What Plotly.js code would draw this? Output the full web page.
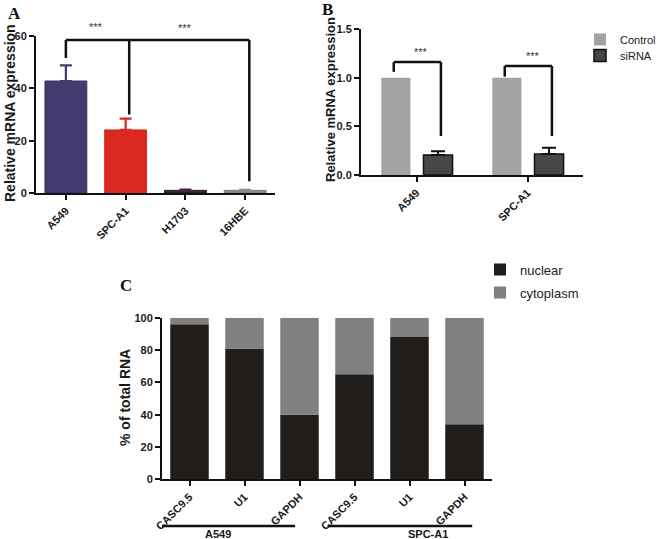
<!DOCTYPE html>
<html>
<head>
<meta charset="utf-8">
<script src="https://cdn.plot.ly/plotly-3.0.1.min.js"></script>
<style>html,body{margin:0;padding:0;background:#fff;}#chart{width:660px;height:539px;}</style>
</head>
<body>
<div id="chart"></div>
<script>
// ---------- Panel A data ----------
const catsA = ['A549', 'SPC-A1', 'H1703', '16HBE'];
const valsA = [42.8, 24.1, 1.0, 1.0];
const errA = [6.0, 4.3, 0.3, 0.2];
const colorsA = ['#433b6f', '#dc2823', '#4a2342', '#8c8c8c'];
const edgeA = ['#3a3263', '#d42420', '#1e1418', '#7a7a7a'];

// ---------- Panel B data ----------
const catsB = ['A549', 'SPC-A1'];
const controlB = [1.0, 1.0];
const sirnaB = [0.205, 0.215];
const sirnaErrB = [0.04, 0.065];

// ---------- Panel C data ----------
const genesC = ['CASC9.5', 'U1', 'GAPDH', 'CASC9.5', 'U1', 'GAPDH'];
const cellsC = ['A549', 'A549', 'A549', 'SPC-A1', 'SPC-A1', 'SPC-A1'];
const nuclearC = [96, 81, 40, 65, 88, 34];
const cytoplasmC = [4, 19, 60, 35, 12, 66];

const FONT = 'Liberation Sans, Arial, Helvetica, sans-serif';
const SERIF = 'Liberation Serif, Times New Roman, serif';
const tickFont = {family: FONT, size: 11, color: '#1a1a1a', weight: 'bold'};
const titleFont = {family: FONT, size: 14, color: '#1a1a1a', weight: 'bold'};

const idxA = catsA.map((_, i) => i);
const idxB = catsB.map((_, i) => i);
const idxC = genesC.map((_, i) => i);

const traces = [];
// Panel A: one trace per bar so each error bar takes the bar colour
catsA.forEach((c, i) => {
  traces.push({
    type: 'bar', x: [idxA[i]], y: [valsA[i]], width: 0.7, name: c,
    xaxis: 'x', yaxis: 'y', showlegend: false,
    marker: {color: colorsA[i], line: {color: edgeA[i], width: 1}},
    error_y: {type: 'data', symmetric: false, array: [errA[i]], arrayminus: [0],
              color: colorsA[i], thickness: 2.2, width: 6}
  });
});
// Panel B
traces.push({
  type: 'bar', x: idxB, y: controlB, name: 'Control', width: 0.262, offset: -0.317,
  xaxis: 'x2', yaxis: 'y2', legend: 'legend',
  marker: {color: '#a3a3a3', line: {color: '#a3a3a3', width: 0}}
});
traces.push({
  type: 'bar', x: idxB, y: sirnaB, name: 'siRNA', width: 0.262, offset: 0.063,
  xaxis: 'x2', yaxis: 'y2', legend: 'legend4',
  marker: {color: '#474747', line: {color: '#111', width: 1.5}},
  error_y: {type: 'data', symmetric: false, array: sirnaErrB, arrayminus: [0, 0],
            color: '#111', thickness: 2, width: 7}
});
// Panel C
traces.push({
  type: 'bar', x: idxC, y: nuclearC, name: 'nuclear', width: 0.7,
  xaxis: 'x3', yaxis: 'y3', legend: 'legend2',
  marker: {color: '#201d1a', line: {width: 0}}
});
traces.push({
  type: 'bar', x: idxC, y: cytoplasmC, base: nuclearC, name: 'cytoplasm', width: 0.7,
  xaxis: 'x3', yaxis: 'y3', legend: 'legend3',
  marker: {color: '#808080', line: {width: 0}}
});

function px(x) { return x / 660; }
function py(y) { return 1 - y / 539; }

const axisCommon = {
  showline: true, linecolor: '#111', linewidth: 2, ticks: 'outside', ticklen: 5,
  tickwidth: 2, tickcolor: '#111', showgrid: false, zeroline: false, tickfont: tickFont,
  automargin: false
};

const shapes = [];
function seg(xr, yr, x0, y0, x1, y1) {
  shapes.push({type: 'line', xref: xr, yref: yr, x0: x0, y0: y0, x1: x1, y1: y1,
               line: {color: '#111', width: 2.5}});
}
// Panel A significance brackets
const brA = 58.5;
seg('x', 'y', 0, brA, 3.07, brA);
seg('x', 'y', 0, brA, 0, valsA[0] + errA[0] + 2.8);
seg('x', 'y', 1.06, brA, 1.06, 30);
seg('x', 'y', 3.07, brA, 3.07, 4.5);
// Panel B brackets
const brB = [1.16, 1.12];
const legL = [1.06, 1.01];
idxB.forEach(i => {
  const l = i - 0.205, r = i + 0.22;
  seg('x2', 'y2', l, brB[i], r, brB[i]);
  seg('x2', 'y2', l, brB[i], l, legL[i]);
  seg('x2', 'y2', r, brB[i], r, 0.40);
});
// Panel C group underlines
const groupLines = [[-0.5, 1.92], [2.51, 5.14]];
const groupLabelX = [0.52, 4.33];
const groups = [...new Set(cellsC)];
groups.forEach((g, k) => {
  shapes.push({type: 'line', xref: 'x3', yref: 'paper', x0: groupLines[k][0], x1: groupLines[k][1],
               y0: py(526), y1: py(526), line: {color: '#111', width: 2.5}});
});

const starFont = {family: FONT, size: 11, color: '#333'};
const letterFont = {family: SERIF, size: 17, color: '#111', weight: 'bold'};
const annotations = [
  {text: 'A', xref: 'paper', yref: 'paper', x: px(6), y: py(2), xanchor: 'left', yanchor: 'top', showarrow: false, font: letterFont},
  {text: 'B', xref: 'paper', yref: 'paper', x: px(320), y: py(-2), xanchor: 'left', yanchor: 'top', showarrow: false, font: letterFont},
  {text: 'C', xref: 'paper', yref: 'paper', x: px(118), y: py(274), xanchor: 'left', yanchor: 'top', showarrow: false, font: letterFont},
  {text: '***', xref: 'x', yref: 'y domain', x: 0.51, y: 66.5 / 60, showarrow: false, font: starFont},
  {text: '***', xref: 'x', yref: 'y domain', x: 2.0, y: 66.0 / 60, showarrow: false, font: starFont},
  {text: '***', xref: 'x2', yref: 'y2', x: 0.036, y: 1.26, showarrow: false, font: starFont},
  {text: '***', xref: 'x2', yref: 'y2', x: 1.05, y: 1.22, showarrow: false, font: starFont},
  // axis titles
  {text: 'Relative mRNA expression', xref: 'paper', yref: 'paper', x: px(10), y: py(113), textangle: -90,
   xanchor: 'center', yanchor: 'middle', showarrow: false, font: titleFont},
  {text: 'Relative mRNA expression', xref: 'paper', yref: 'paper', x: px(330), y: py(100), textangle: -90,
   xanchor: 'center', yanchor: 'middle', showarrow: false, font: {family: FONT, size: 13, color: '#1a1a1a', weight: 'bold'}},
  {text: '% of total RNA', xref: 'paper', yref: 'paper', x: px(125), y: py(398), textangle: -90,
   xanchor: 'center', yanchor: 'middle', showarrow: false, font: titleFont}
];
groups.forEach((g, k) => {
  annotations.push({text: g, xref: 'x3', yref: 'paper', x: groupLabelX[k], y: py(534), showarrow: false,
                    font: tickFont, yanchor: 'middle'});
});

const legendBase = {bgcolor: 'rgba(0,0,0,0)', borderwidth: 0, xanchor: 'left', yanchor: 'top',
  font: {family: FONT, size: 13, color: '#222'}};
const legendB = Object.assign({}, legendBase, {font: {family: FONT, size: 11, color: '#222'}});

const layout = {
  width: 660, height: 539, margin: {l: 0, r: 0, t: 0, b: 0, autoexpand: false},
  paper_bgcolor: '#fff', plot_bgcolor: 'rgba(0,0,0,0)', barmode: 'overlay',
  xaxis: Object.assign({}, axisCommon, {domain: [px(36), px(275)], anchor: 'y', range: [-0.5, 3.5],
    tickvals: idxA, ticktext: catsA, tickangle: -45}),
  yaxis: Object.assign({}, axisCommon, {domain: [py(193), py(36)], anchor: 'x', range: [0, 60], dtick: 20}),
  xaxis2: Object.assign({}, axisCommon, {domain: [px(361), px(583)], anchor: 'y2', range: [-0.5, 1.5],
    tickvals: idxB, ticktext: catsB, tickangle: -45}),
  yaxis2: Object.assign({}, axisCommon, {domain: [py(175), py(29)], anchor: 'x2', range: [0, 1.5], dtick: 0.5,
    tickformat: '.1f'}),
  xaxis3: Object.assign({}, axisCommon, {domain: [px(162), px(492)], anchor: 'y3', range: [-0.5, 5.5],
    tickvals: idxC, ticktext: genesC, tickangle: -45}),
  yaxis3: Object.assign({}, axisCommon, {domain: [py(479.3), py(317.7)], anchor: 'x3', range: [0, 100], dtick: 20}),
  legend: Object.assign({}, legendB, {x: px(580), y: py(25)}),
  legend4: Object.assign({}, legendB, {x: px(580), y: py(41)}),
  legend2: Object.assign({}, legendBase, {x: px(480), y: py(254.5)}),
  legend3: Object.assign({}, legendBase, {x: px(480), y: py(277.5)}),
  shapes: shapes,
  annotations: annotations
};

Plotly.newPlot('chart', traces, layout, {staticPlot: true, displayModeBar: false});
</script>
</body>
</html>
